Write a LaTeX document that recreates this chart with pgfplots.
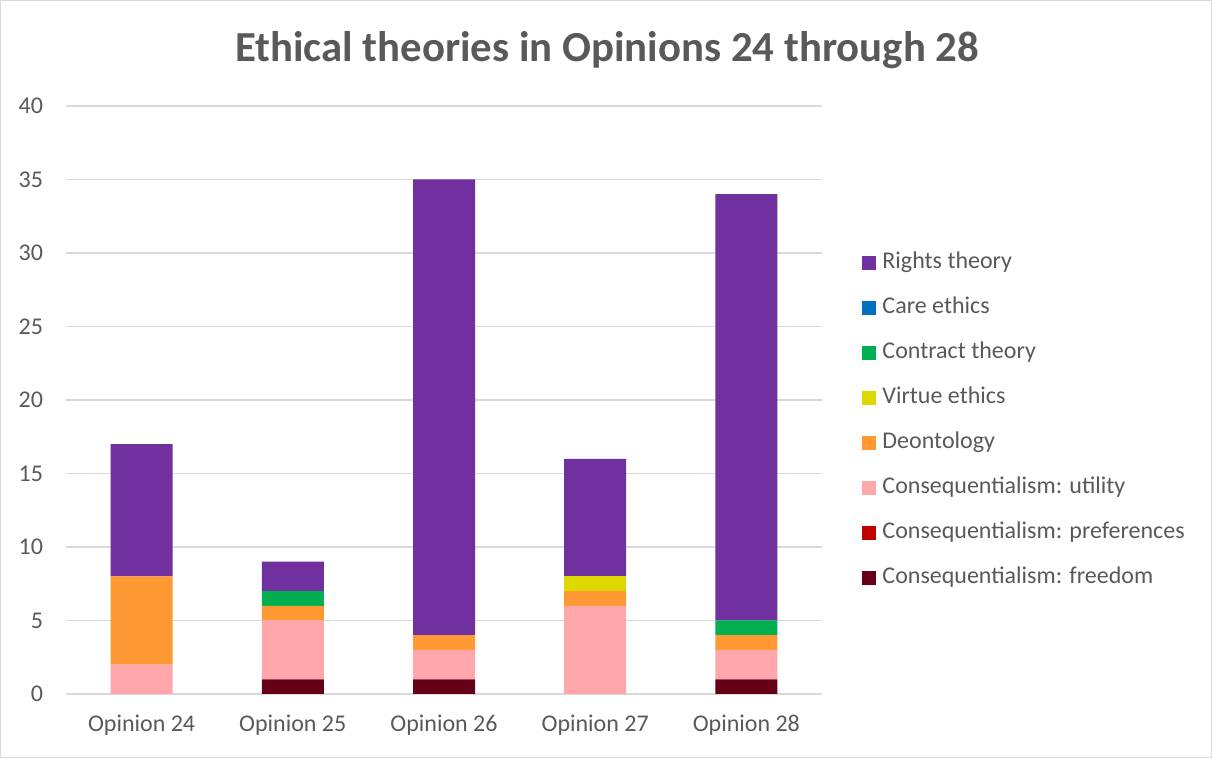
\documentclass[border=0pt]{standalone}
\usepackage{pgfplots}
\pgfplotsset{compat=1.18}
\usepackage{fontspec}
\setmainfont{Carlito}
\definecolor{txt}{HTML}{595959}
\definecolor{gridc}{HTML}{D9D9D9}
\definecolor{cRights}{HTML}{7030A0}
\definecolor{cCare}{HTML}{0070C0}
\definecolor{cContract}{HTML}{00B050}
\definecolor{cVirtue}{HTML}{DDD800}
\definecolor{cDeon}{HTML}{FF9933}
\definecolor{cUtil}{HTML}{FFA7AB}
\definecolor{cPref}{HTML}{C00000}
\definecolor{cFree}{HTML}{660016}
\begin{document}
\begin{tikzpicture}
\path[draw=gridc,line width=0.5pt] (0.25pt,0.25pt) rectangle (605.75pt,378.75pt);
\node[font=\fontsize{21.4}{24}\selectfont\bfseries,text=txt] at (303.5pt,354pt) {Ethical theories in Opinions 24 through 28};
\begin{axis}[
  at={(33pt,32pt)}, anchor=south west,
  scale only axis, width=378pt, height=294pt,
  ybar stacked, bar width=31pt,
  xmin=-0.5, xmax=4.5, ymin=0, ymax=40,
  ytick={0,5,...,40},
  xtick={0,1,2,3,4},
  xticklabels={Opinion 24,Opinion 25,Opinion 26,Opinion 27,Opinion 28},
  ymajorgrids, grid style={gridc, line width=0.6pt},
  axis line style={draw=none},
  axis x line*=bottom,
  x axis line style={draw=gridc, line width=0.6pt},
  axis y line*=left,
  y axis line style={draw=none},
  major tick length=0pt,
  tick label style={font=\fontsize{12}{14}\selectfont, text=txt},
  /pgf/number format/assume math mode=true,
  yticklabel style={xshift=-8pt},
  xticklabel style={yshift=-7pt},
  reverse legend,
  legend style={at={(1.053,0.465)}, anchor=west, draw=none, fill=none,
    font=\fontsize{12}{14}\selectfont, text=txt, inner sep=0pt,
    row sep=13.5pt, column sep=3pt, cells={anchor=west},
    nodes={inner sep=0pt, text height=7pt, text depth=2pt}},
  legend image code/.code={\fill[#1] (0pt,-3.5pt) rectangle (7pt,3.5pt);},
]
\addplot[fill=cFree, draw=none] coordinates {(0,0) (1,1) (2,1) (3,0) (4,1)};
\addlegendentry{Consequentialism: freedom}
\addplot[fill=cPref, draw=none] coordinates {(0,0) (1,0) (2,0) (3,0) (4,0)};
\addlegendentry{Consequentialism: preferences}
\addplot[fill=cUtil, draw=none] coordinates {(0,2) (1,4) (2,2) (3,6) (4,2)};
\addlegendentry{Consequentialism: utility}
\addplot[fill=cDeon, draw=none] coordinates {(0,6) (1,1) (2,1) (3,1) (4,1)};
\addlegendentry{Deontology}
\addplot[fill=cVirtue, draw=none] coordinates {(0,0) (1,0) (2,0) (3,1) (4,0)};
\addlegendentry{Virtue ethics}
\addplot[fill=cContract, draw=none] coordinates {(0,0) (1,1) (2,0) (3,0) (4,1)};
\addlegendentry{Contract theory}
\addplot[fill=cCare, draw=none] coordinates {(0,0) (1,0) (2,0) (3,0) (4,0)};
\addlegendentry{Care ethics}
\addplot[fill=cRights, draw=none] coordinates {(0,9) (1,2) (2,31) (3,8) (4,29)};
\addlegendentry{Rights theory}
\end{axis}
\end{tikzpicture}
\end{document}
